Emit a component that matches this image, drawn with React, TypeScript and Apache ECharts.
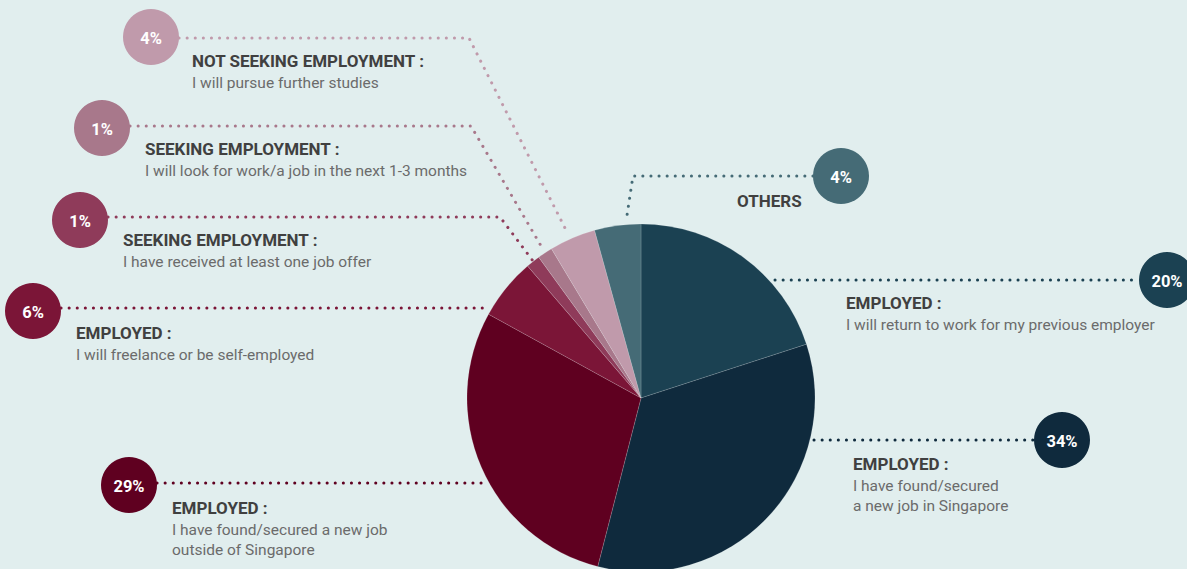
import React, { useEffect, useRef } from "react";
import * as echarts from "echarts";

// ---- data ----
const categories = [
  "EMPLOYED : I will return to work for my previous employer",
  "EMPLOYED : I have found/secured a new job in Singapore",
  "EMPLOYED : I have found/secured a new job outside of Singapore",
  "EMPLOYED : I will freelance or be self-employed",
  "SEEKING EMPLOYMENT : I have received at least one job offer",
  "SEEKING EMPLOYMENT : I will look for work/a job in the next 1-3 months",
  "NOT SEEKING EMPLOYMENT : I will pursue further studies",
  "OTHERS",
];
const values = [20, 34, 29, 5.7, 1.3, 1.4, 4.3, 4.3];
const pctLabels = ["20%", "34%", "29%", "6%", "1%", "1%", "4%", "4%"];
const titles = [
  "EMPLOYED :",
  "EMPLOYED :",
  "EMPLOYED :",
  "EMPLOYED :",
  "SEEKING EMPLOYMENT :",
  "SEEKING EMPLOYMENT :",
  "NOT SEEKING EMPLOYMENT :",
  "OTHERS",
];
const subtitles = [
  ["I will return to work for my previous employer"],
  ["I have found/secured", "a new job in Singapore"],
  ["I have found/secured a new job", "outside of Singapore"],
  ["I will freelance or be self-employed"],
  ["I have received at least one job offer"],
  ["I will look for work/a job in the next 1-3 months"],
  ["I will pursue further studies"],
  [],
];
const colors = [
  "#1b4152",
  "#0f2a3d",
  "#5f0020",
  "#7b1537",
  "#8f3b5a",
  "#a8788b",
  "#c09aab",
  "#456b76",
];

// ---- annotation layout ----
const layout = [
  { c: [1167, 280], line: [[775, 280], [1139, 280]], tx: 846, ty: 303 },
  { c: [1062, 440], line: [[814, 440], [1034, 440]], tx: 853, ty: 464 },
  { c: [129, 485], line: [[157, 483], [485, 483]], tx: 172, ty: 508 },
  { c: [33, 311], line: [[61, 308], [489, 308]], tx: 76, ty: 333 },
  { c: [80, 220], line: [[108, 217], [500, 217], [533, 261]], tx: 123, ty: 240 },
  { c: [102, 128], line: [[130, 126], [471, 126], [544, 251]], tx: 145, ty: 149 },
  { c: [151, 37], line: [[179, 38], [469, 38], [568, 234]], tx: 192, ty: 61 },
  { c: [841, 176], line: [[813, 176], [633, 176], [626, 222]], tx: 737, ty: 201 },
];

const FONT = "Roboto, 'Noto Sans', sans-serif";

export default function App() {
  const ref = useRef<HTMLDivElement>(null);
  useEffect(() => {
    if (!ref.current) return;
    const chart = echarts.init(ref.current, null, { renderer: "svg" });
    const graphics: any[] = [];
    layout.forEach((l, i) => {
      graphics.push({
        type: "polyline",
        silent: true,
        z: 10,
        shape: { points: l.line },
        style: {
          stroke: colors[i],
          lineWidth: 3,
          lineDash: [0.1, 8],
          lineCap: "round",
          fill: null,
        },
      });
    });
    layout.forEach((l, i) => {
      graphics.push({
        type: "circle",
        z: 20,
        shape: { cx: l.c[0], cy: l.c[1], r: 28 },
        style: { fill: colors[i] },
      });
      graphics.push({
        type: "text",
        z: 21,
        x: l.c[0],
        y: l.c[1] + 1,
        style: {
          text: pctLabels[i],
          fill: "#ffffff",
          font: `bold 16.5px ${FONT}`,
          align: "center",
          verticalAlign: "middle",
        },
      });
      graphics.push({
        type: "text",
        z: 21,
        x: l.tx,
        y: l.ty,
        style: {
          text: titles[i],
          fill: "#404040",
          font: `bold 17px ${FONT}`,
          align: "left",
          verticalAlign: "middle",
        },
      });
      subtitles[i].forEach((s, k) => {
        graphics.push({
          type: "text",
          z: 21,
          x: l.tx,
          y: l.ty + 22 + k * 19.5,
          style: {
            text: s,
            fill: "#6b6b6b",
            font: `15.5px ${FONT}`,
            align: "left",
            verticalAlign: "middle",
          },
        });
      });
    });

    chart.setOption({
      animation: false,
      backgroundColor: "#e1eeee",
      graphic: graphics,
      series: [
        {
          type: "pie",
          center: [641, 398],
          radius: 174,
          startAngle: 90,
          clockwise: true,
          label: { show: false },
          labelLine: { show: false },
          emphasis: { disabled: true },
          itemStyle: { borderColor: "rgba(255,255,255,0.25)", borderWidth: 0.6 },
          data: values.map((v, i) => ({
            name: categories[i],
            value: v,
            itemStyle: { color: colors[i] },
          })),
        },
      ],
    });
    return () => chart.dispose();
  }, []);
  return (
    <div
      ref={ref}
      style={{ position: "absolute", left: 0, top: 0, width: 1187, height: 569 }}
    />
  );
}
